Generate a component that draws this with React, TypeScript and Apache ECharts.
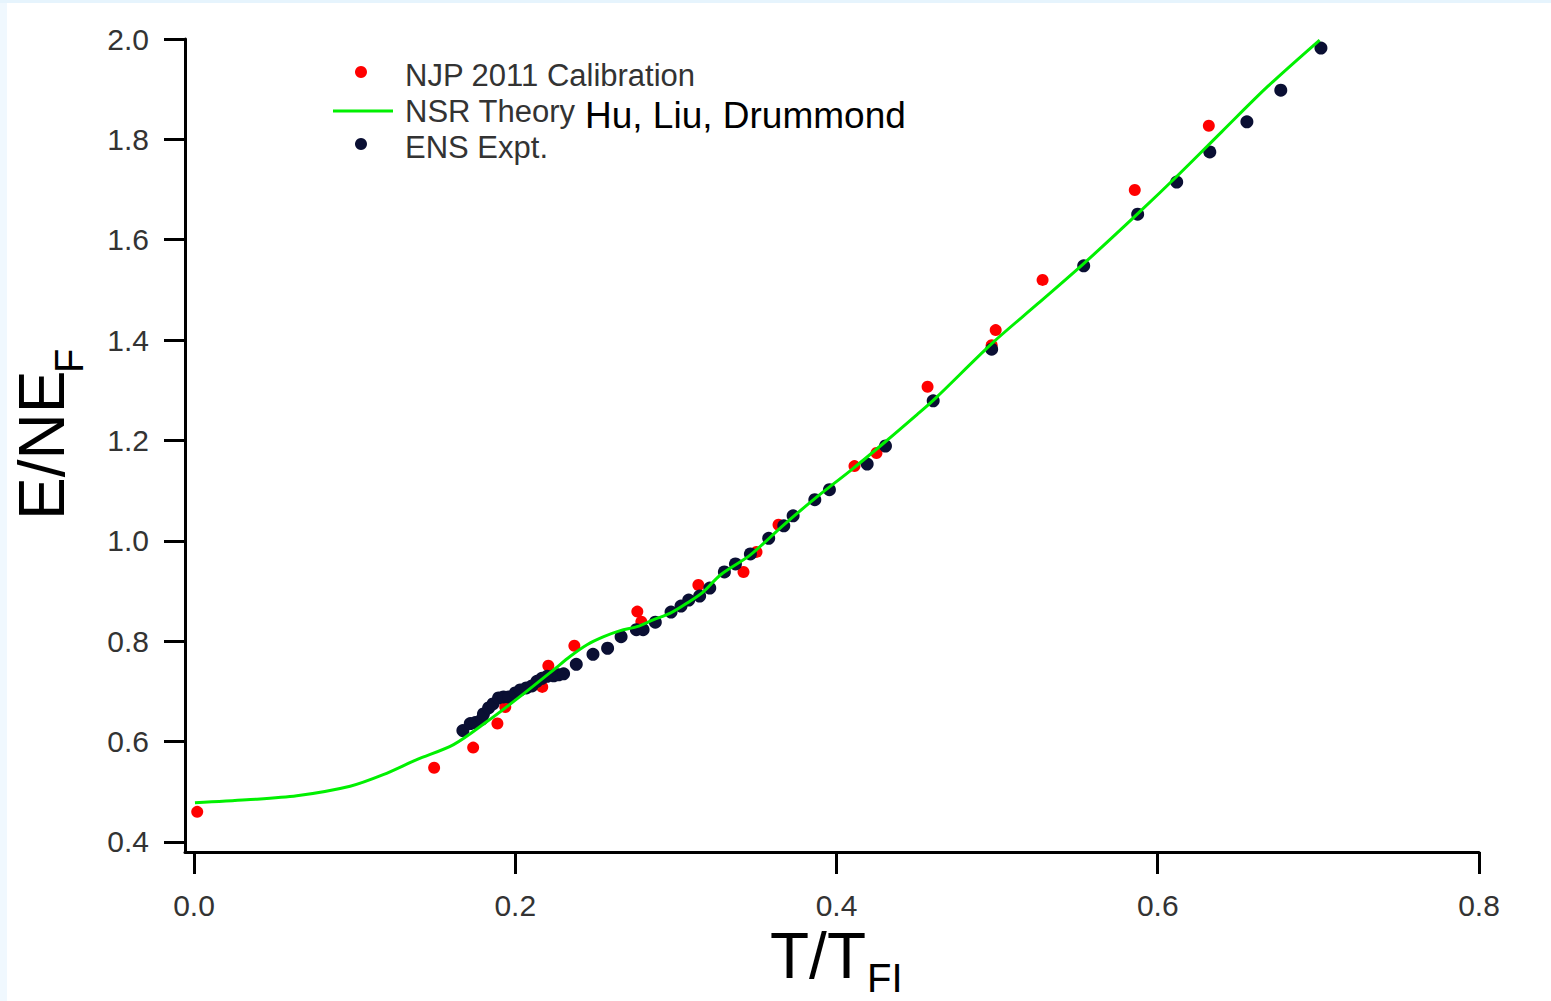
import React, { useEffect, useRef } from "react";
import * as echarts from "echarts";

// ---- data ----
const xTicks = [0, 0.2, 0.4, 0.6, 0.8];
const yTicks = [0.4, 0.6, 0.8, 1.0, 1.2, 1.4, 1.6, 1.8, 2.0];

// NJP 2011 Calibration (red)
const njpCalibration: [number, number][] = [
  [0.002, 0.46], [0.1495, 0.548], [0.1738, 0.588], [0.1889, 0.636], [0.1938, 0.669],
  [0.2168, 0.709], [0.2206, 0.751], [0.2368, 0.791], [0.276, 0.859], [0.2785, 0.839],
  [0.314, 0.912], [0.3421, 0.938], [0.3502, 0.978], [0.3639, 1.032], [0.4112, 1.149],
  [0.4249, 1.175], [0.4567, 1.307], [0.4966, 1.39], [0.4991, 1.42], [0.5283, 1.52],
  [0.5857, 1.699], [0.6318, 1.827],
];

// NSR Theory (green line)
const nsrTheory: [number, number][] = [
  [0.0006, 0.478], [0.0328, 0.484], [0.064, 0.492], [0.0972, 0.511], [0.1178, 0.534],
  [0.1387, 0.564], [0.1616, 0.594], [0.1824, 0.64], [0.2031, 0.69], [0.2239, 0.743],
  [0.2343, 0.77], [0.2447, 0.793], [0.2551, 0.809], [0.2654, 0.821], [0.2758, 0.829],
  [0.2862, 0.843], [0.2966, 0.856], [0.307, 0.876], [0.3173, 0.899], [0.3277, 0.932],
  [0.3464, 0.972], [0.3672, 1.032], [0.388, 1.088], [0.4087, 1.14], [0.4295, 1.195],
  [0.4503, 1.252], [0.4619, 1.285], [0.497, 1.394], [0.5255, 1.473], [0.5541, 1.553],
  [0.5879, 1.653], [0.6137, 1.732], [0.6398, 1.815], [0.6683, 1.905], [0.7008, 1.998],
];

// ENS Expt. (navy)
const ensExpt: [number, number][] = [
  [0.1674, 0.622], [0.172, 0.636], [0.1751, 0.638], [0.1793, 0.645], [0.1802, 0.655],
  [0.1834, 0.667], [0.1861, 0.675], [0.1896, 0.687], [0.1927, 0.689], [0.1958, 0.689],
  [0.2, 0.697], [0.2031, 0.703], [0.2069, 0.707], [0.2104, 0.711], [0.2135, 0.72],
  [0.2166, 0.726], [0.2198, 0.73], [0.2239, 0.731], [0.227, 0.733], [0.2301, 0.735],
  [0.238, 0.754], [0.2484, 0.774], [0.2575, 0.786], [0.2659, 0.809], [0.2754, 0.823],
  [0.2796, 0.823], [0.2872, 0.838], [0.297, 0.858], [0.3032, 0.87], [0.308, 0.882],
  [0.3148, 0.89], [0.3211, 0.906], [0.3302, 0.938], [0.3371, 0.954], [0.3464, 0.974],
  [0.3578, 1.005], [0.3672, 1.03], [0.373, 1.05], [0.3865, 1.082], [0.3956, 1.102],
  [0.4191, 1.153], [0.4305, 1.189], [0.4602, 1.279], [0.4966, 1.382], [0.5539, 1.548],
  [0.5875, 1.651], [0.6118, 1.715], [0.6324, 1.775], [0.6555, 1.835], [0.6766, 1.898],
  [0.7016, 1.982],
];

const seriesNames = ["NJP 2011 Calibration", "NSR Theory", "ENS Expt."];
const authorsLabel = "Hu, Liu, Drummond";

const RED = "#ff0000";
const GREEN = "#00f000";
const NAVY = "#0a0f33";
const FONT = "'Liberation Sans', Arial, sans-serif";

export default function App() {
  const ref = useRef<HTMLDivElement>(null);

  useEffect(() => {
    if (!ref.current) return;
    const chart = echarts.init(ref.current, null, { renderer: "svg" });
    const tickLabel = {
      fontFamily: FONT,
      fontSize: 30,
      color: "#333",
      formatter: (v: number) => v.toFixed(1),
    };
    const legendText = (text: string, y: number) => ({
      type: "text",
      x: 398,
      y,
      style: { text, font: `31px ${FONT}`, fill: "#333", verticalAlign: "middle", align: "left" },
    });
    const option: any = {
      animation: false,
      backgroundColor: "#ffffff",
      grid: { left: 178, right: 72, top: 36, bottom: 149, containLabel: false },
      xAxis: {
        type: "value",
        min: -0.0056,
        max: 0.8,
        splitLine: { show: false },
        axisLine: { show: true, onZero: false, lineStyle: { color: "#000", width: 3 } },
        axisTick: {
          show: true,
          length: 22,
          inside: false,
          lineStyle: { color: "#000", width: 3 },
          customValues: xTicks,
        },
        axisLabel: { ...tickLabel, margin: 38, lineHeight: 30, customValues: xTicks },
      },
      yAxis: {
        type: "value",
        min: 0.38,
        max: 2.0,
        splitLine: { show: false },
        axisLine: { show: true, onZero: false, lineStyle: { color: "#000", width: 3 } },
        axisTick: {
          show: true,
          length: 21,
          inside: false,
          lineStyle: { color: "#000", width: 3 },
          customValues: yTicks,
        },
        axisLabel: { ...tickLabel, margin: 36, customValues: yTicks },
      },
      series: [
        {
          name: seriesNames[0],
          type: "scatter",
          data: njpCalibration,
          symbol: "circle",
          symbolSize: 12,
          itemStyle: { color: RED, opacity: 1 },
        },
        {
          name: seriesNames[1],
          type: "line",
          data: nsrTheory,
          showSymbol: false,
          symbol: "none",
          smooth: 0.3,
          lineStyle: { color: GREEN, width: 3 },
        },
        {
          name: seriesNames[2],
          type: "scatter",
          data: ensExpt,
          symbol: "circle",
          symbolSize: 13,
          itemStyle: { color: NAVY, opacity: 1 },
        },
      ],
      graphic: [
        { type: "circle", shape: { cx: 354, cy: 69, r: 6 }, style: { fill: RED } },
        {
          type: "line",
          shape: { x1: 326, y1: 108, x2: 386, y2: 108 },
          style: { stroke: GREEN, lineWidth: 3 },
        },
        { type: "circle", shape: { cx: 354, cy: 141, r: 6 }, style: { fill: NAVY } },
        legendText(seriesNames[0], 72),
        legendText(seriesNames[1], 108),
        legendText(seriesNames[2], 144),
        {
          type: "text",
          x: 578,
          y: 112,
          style: { text: authorsLabel, font: `37px ${FONT}`, fill: "#000", verticalAlign: "middle", align: "left" },
        },
        // x-axis title T/T_FI
        {
          type: "text",
          x: 763,
          y: 953,
          style: { text: "T/T", font: `64px ${FONT}`, fill: "#000", verticalAlign: "middle", align: "left" },
        },
        {
          type: "text",
          x: 860,
          y: 975,
          style: { text: "FI", font: `40px ${FONT}`, fill: "#000", verticalAlign: "middle", align: "left" },
        },
        // y-axis title E/NE_F
        {
          type: "text",
          x: 34.5,
          y: 517,
          rotation: Math.PI / 2,
          style: { text: "E/NE", font: `64px ${FONT}`, fill: "#000", verticalAlign: "middle", align: "left" },
        },
        {
          type: "text",
          x: 61.7,
          y: 370,
          rotation: Math.PI / 2,
          style: { text: "F", font: `40px ${FONT}`, fill: "#000", verticalAlign: "middle", align: "left" },
        },
      ],
    };
    chart.setOption(option);
    return () => chart.dispose();
  }, []);

  return (
    <div style={{ position: "fixed", left: 0, top: 0, width: 1551, height: 1001, background: "#f0f8fe", overflow: "hidden" }}>
      <div style={{ position: "absolute", left: 0, top: 0, width: 1551, height: 3, background: "#e6f4fd" }} />
      <div
        ref={ref}
        style={{ position: "absolute", left: 7, top: 3, width: 1544, height: 998, background: "#ffffff" }}
      />
    </div>
  );
}
